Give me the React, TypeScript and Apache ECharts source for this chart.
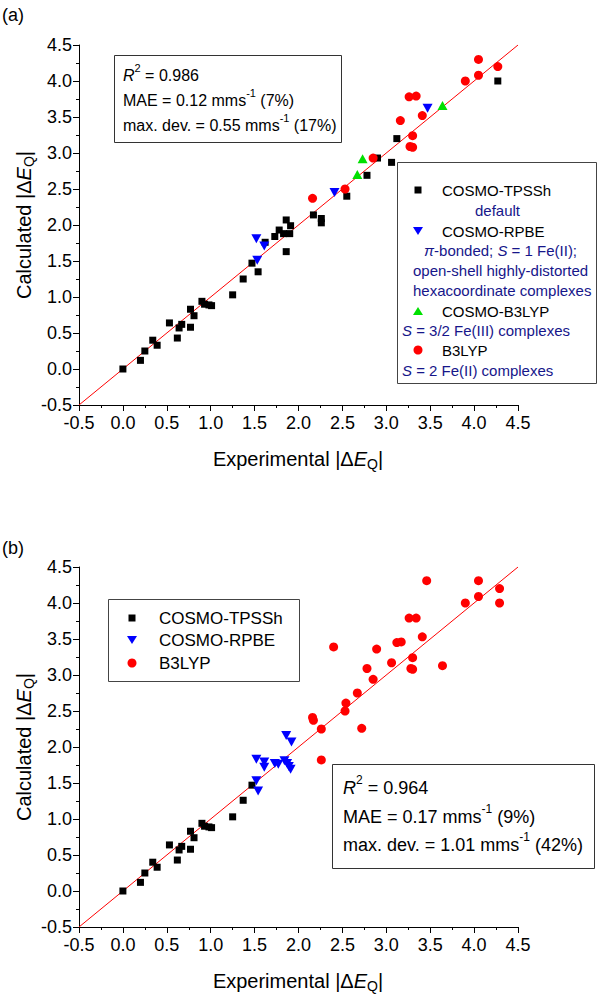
import React, { useEffect, useRef } from "react";
import * as echarts from "echarts";

// ---- axis settings ----
const AXIS_MIN = -0.5;
const AXIS_MAX = 4.5;
const AXIS_STEP = 0.5;
const parityLine: [number, number][] = [[-0.5, -0.5], [4.5, 4.5]];

// ---- panel (a) data: [experimental, calculated] ----
const tpsshA: [number, number][] = [
  [0.0, 0.0], [0.2, 0.12], [0.25, 0.25], [0.34, 0.4], [0.39, 0.33], [0.53, 0.64],
  [0.62, 0.43], [0.64, 0.57], [0.67, 0.62], [0.77, 0.58], [0.77, 0.83], [0.81, 0.74],
  [0.9, 0.94], [0.93, 0.9], [0.98, 0.89], [1.01, 0.88], [1.25, 1.03], [1.37, 1.25],
  [1.47, 1.47], [1.54, 1.35], [1.62, 1.76], [1.73, 1.84], [1.78, 1.93], [1.83, 1.88],
  [1.86, 2.07], [1.86, 1.63], [1.9, 1.88], [1.91, 1.99], [2.17, 2.14], [2.26, 2.09],
  [2.26, 2.03], [2.55, 2.4], [2.78, 2.69], [2.9, 2.93], [3.06, 2.87], [3.12, 3.2],
  [4.27, 4.0],
];
const rpbeA: [number, number][] = [
  [1.52, 1.81], [1.53, 1.51], [1.61, 1.71], [2.41, 2.45], [3.47, 3.62],
];
const cosmoB3lypA: [number, number][] = [
  [2.67, 2.7], [2.73, 2.92], [3.64, 3.66],
];
const b3lypA: [number, number][] = [
  [2.16, 2.37], [2.53, 2.5], [2.85, 2.93], [3.16, 3.45], [3.26, 3.78], [3.34, 3.79],
  [3.41, 3.52], [3.3, 3.24], [3.27, 3.09], [3.3, 3.08], [3.9, 4.0], [4.05, 4.3],
  [4.05, 4.08], [4.27, 4.2],
];

// ---- panel (b) data ----
const tpsshB: [number, number][] = [
  [0.0, 0.0], [0.2, 0.12], [0.25, 0.25], [0.34, 0.4], [0.39, 0.33], [0.53, 0.64],
  [0.62, 0.43], [0.64, 0.57], [0.67, 0.62], [0.77, 0.58], [0.77, 0.83], [0.81, 0.74],
  [0.9, 0.94], [0.93, 0.9], [0.98, 0.89], [1.01, 0.88], [1.25, 1.03], [1.37, 1.26],
  [1.47, 1.47],
];
const rpbeB: [number, number][] = [
  [1.52, 1.83], [1.61, 1.79], [1.61, 1.72], [1.73, 1.77], [1.77, 1.76], [1.84, 1.81],
  [1.87, 1.77], [1.89, 1.73], [1.91, 1.69], [1.86, 2.16], [1.92, 2.07], [1.52, 1.53],
  [1.54, 1.39],
];
const b3lypB: [number, number][] = [
  [2.16, 2.41], [2.17, 2.37], [2.26, 2.25], [2.26, 1.82], [2.53, 2.5], [2.54, 2.61],
  [2.67, 2.75], [2.72, 2.26], [2.78, 3.09], [2.85, 2.94], [2.89, 3.36], [2.4, 3.39],
  [3.06, 3.17], [3.12, 3.45], [3.17, 3.46], [3.26, 3.79], [3.34, 3.79], [3.41, 3.53],
  [3.3, 3.24], [3.28, 3.09], [3.3, 3.08], [3.46, 4.31], [3.64, 3.13], [3.9, 4.0],
  [4.05, 4.31], [4.05, 4.09], [4.29, 4.2], [4.29, 4.0],
];

// ---- text ----
const statsA = ["0.986", "0.12", "7%", "0.55", "17%"];
const statsB = ["0.964", "0.17", "9%", "1.01", "42%"];
const seriesNames = ["COSMO-TPSSh", "COSMO-RPBE", "COSMO-B3LYP", "B3LYP"];

const FONT = '"Liberation Sans", Arial, Helvetica, sans-serif';
const NAVY = "#16168a";
const BLACK = "#000000";
const BLUE = "#0000ff";
const GREEN = "#00e000";
const RED = "#ff0000";

const rs = (size: number, extra: any = {}) => ({
  fontSize: size,
  fontFamily: FONT,
  fill: "#000",
  ...extra,
});

function statsText(s: string[]) {
  return (
    `{ri|R}{sup|2} = ${s[0]}\n` +
    `MAE = ${s[1]} mms{sup|-1} (${s[2]})\n` +
    `max. dev. = ${s[3]} mms{sup|-1} (${s[4]})`
  );
}

function statsEl(x: number, y: number, size: number, lh: number, s: string[]) {
  return {
    type: "text",
    x,
    y,
    z: 10,
    style: {
      text: statsText(s),
      fontSize: size,
      fontFamily: FONT,
      fill: "#000",
      lineHeight: lh,
      align: "left",
      verticalAlign: "top",
      rich: {
        ri: rs(size, { fontStyle: "italic", lineHeight: lh }),
        sup: rs(Math.round(size * 0.68), { lineHeight: Math.round(lh * 0.62), verticalAlign: "top" }),
      },
    },
  };
}

function titleRich(size: number) {
  return {
    i: rs(size, { fontStyle: "italic", lineHeight: 24 }),
    sub: rs(Math.round(size * 0.7), { lineHeight: 12, verticalAlign: "bottom" }),
  };
}

function xTitle(y: number) {
  return {
    type: "text",
    x: 298,
    y,
    style: {
      text: "Experimental |Δ{i|E}{sub|Q}|",
      fontSize: 20,
      fontFamily: FONT,
      fill: "#000",
      lineHeight: 24,
      align: "center",
      verticalAlign: "middle",
      rich: titleRich(20),
    },
  };
}

function yTitle(y: number) {
  return {
    type: "text",
    x: 24,
    y,
    rotation: Math.PI / 2,
    style: {
      text: "Calculated |Δ{i|E}{sub|Q}|",
      fontSize: 20,
      fontFamily: FONT,
      fill: "#000",
      lineHeight: 24,
      align: "center",
      verticalAlign: "middle",
      rich: titleRich(20),
    },
  };
}

function txt(x: number, y: number, text: string, size: number, color: string, rich?: any) {
  return {
    type: "text",
    x,
    y,
    z: 10,
    style: {
      text,
      fontSize: size,
      fontFamily: FONT,
      fill: color,
      align: "left",
      verticalAlign: "middle",
      rich,
    },
  };
}

function makeAxis(kind: "x" | "y", gi: number) {
  return {
    type: "value",
    gridIndex: gi,
    min: AXIS_MIN,
    max: AXIS_MAX,
    interval: AXIS_STEP,
    axisLine: { show: true, onZero: false, lineStyle: { color: "#000", width: 1 } },
    axisTick: { show: true, inside: false, length: 6, lineStyle: { color: "#000", width: 1 } },
    minorTick: { show: true, splitNumber: 2, length: 3, lineStyle: { color: "#000", width: 1 } },
    splitLine: { show: false },
    minorSplitLine: { show: false },
    axisLabel: {
      color: "#000",
      fontSize: 18,
      fontFamily: FONT,
      margin: kind === "x" ? 9 : 7,
      showMinLabel: true,
      showMaxLabel: true,
      formatter: (v: number) => v.toFixed(1),
    },
  };
}

function scatter(name: string, data: [number, number][], gi: number, symbol: string, size: any, color: string, rotate = 0) {
  return {
    type: "scatter",
    name,
    data,
    xAxisIndex: gi,
    yAxisIndex: gi,
    symbol,
    symbolSize: size,
    symbolRotate: rotate,
    itemStyle: { color, opacity: 1 },
    z: 3,
    silent: true,
  };
}

function parity(gi: number) {
  return {
    type: "line",
    data: parityLine,
    xAxisIndex: gi,
    yAxisIndex: gi,
    symbol: "none",
    lineStyle: { color: RED, width: 1 },
    z: 2,
    silent: true,
  };
}

export default function App() {
  const ref = useRef<HTMLDivElement>(null);

  useEffect(() => {
    document.body.style.margin = "0";
    if (!ref.current) return;
    const chart = echarts.init(ref.current, undefined, { renderer: "svg" });

    const graphic: any[] = [
      // panel labels
      txt(2, 15, "(a)", 18, "#000"),
      txt(2, 548, "(b)", 18, "#000"),
      // axis titles
      xTitle(459),
      xTitle(981),
      yTitle(225),
      yTitle(747),
      // stats box (a)
      { type: "rect", z: 9, shape: { x: 114.5, y: 55.5, width: 227, height: 87 }, style: { fill: "#fff", stroke: "#333", lineWidth: 1 } },
      statsEl(123, 62.5, 16, 25, statsA),
      // stats box (b)
      { type: "rect", z: 9, shape: { x: 332.5, y: 764.5, width: 262, height: 104 }, style: { fill: "#fff", stroke: "#333", lineWidth: 1 } },
      statsEl(343, 774, 18, 28.5, statsB),
      // legend (a)
      { type: "rect", z: 9, shape: { x: 397.5, y: 162.5, width: 199, height: 221 }, style: { fill: "#fff", stroke: "#444", lineWidth: 1 } },
      { type: "rect", z: 10, shape: { x: 414.5, y: 186.5, width: 7, height: 7 }, style: { fill: BLACK } },
      txt(442, 190, seriesNames[0], 15, "#000"),
      txt(475, 210, "default", 15, NAVY),
      { type: "polygon", z: 10, shape: { points: [[413, 227], [423, 227], [418, 235]] }, style: { fill: BLUE } },
      txt(442, 231, seriesNames[1], 15, "#000"),
      txt(424, 250, "{i|π}-bonded; {i|S} = 1 Fe(II);", 15, NAVY, { i: rs(15, { fontStyle: "italic", fill: NAVY }) }),
      txt(413, 270, "open-shell highly-distorted", 15, NAVY),
      txt(413, 290, "hexacoordinate complexes", 15, NAVY),
      { type: "polygon", z: 10, shape: { points: [[413, 315], [423, 315], [418, 307]] }, style: { fill: GREEN } },
      txt(442, 311, seriesNames[2], 15, "#000"),
      txt(402, 330, "{i|S} = 3/2 Fe(III) complexes", 15, NAVY, { i: rs(15, { fontStyle: "italic", fill: NAVY }) }),
      { type: "circle", z: 10, shape: { cx: 418, cy: 350, r: 4.5 }, style: { fill: RED } },
      txt(442, 350, seriesNames[3], 15, "#000"),
      txt(402, 370, "{i|S} = 2 Fe(II) complexes", 15, NAVY, { i: rs(15, { fontStyle: "italic", fill: NAVY }) }),
      // legend (b)
      { type: "rect", z: 9, shape: { x: 108.5, y: 599.5, width: 191, height: 82 }, style: { fill: "#fff", stroke: "#444", lineWidth: 1 } },
      { type: "rect", z: 10, shape: { x: 128.5, y: 614.5, width: 7, height: 7 }, style: { fill: BLACK } },
      txt(159, 618, seriesNames[0], 17, "#000"),
      { type: "polygon", z: 10, shape: { points: [[127, 636], [137, 636], [132, 644]] }, style: { fill: BLUE } },
      txt(159, 640, seriesNames[1], 17, "#000"),
      { type: "circle", z: 10, shape: { cx: 132, cy: 663, r: 4.5 }, style: { fill: RED } },
      txt(159, 663, seriesNames[3], 17, "#000"),
    ];

    chart.setOption({
      animation: false,
      backgroundColor: "#ffffff",
      grid: [
        { left: 79, top: 45, width: 439, height: 360, containLabel: false },
        { left: 79, top: 567, width: 439, height: 360, containLabel: false },
      ],
      xAxis: [makeAxis("x", 0), makeAxis("x", 1)],
      yAxis: [makeAxis("y", 0), makeAxis("y", 1)],
      series: [
        parity(0),
        scatter(seriesNames[0], tpsshA, 0, "rect", 7, BLACK),
        scatter(seriesNames[1], rpbeA, 0, "triangle", [10, 9], BLUE, 180),
        scatter(seriesNames[2], cosmoB3lypA, 0, "triangle", [10, 9], GREEN),
        scatter(seriesNames[3], b3lypA, 0, "circle", 9, RED),
        parity(1),
        scatter(seriesNames[0], tpsshB, 1, "rect", 7, BLACK),
        scatter(seriesNames[1], rpbeB, 1, "triangle", [10, 9], BLUE, 180),
        scatter(seriesNames[3], b3lypB, 1, "circle", 9, RED),
      ],
      graphic,
    });

    return () => chart.dispose();
  }, []);

  return <div ref={ref} style={{ width: 609, height: 997 }} />;
}
